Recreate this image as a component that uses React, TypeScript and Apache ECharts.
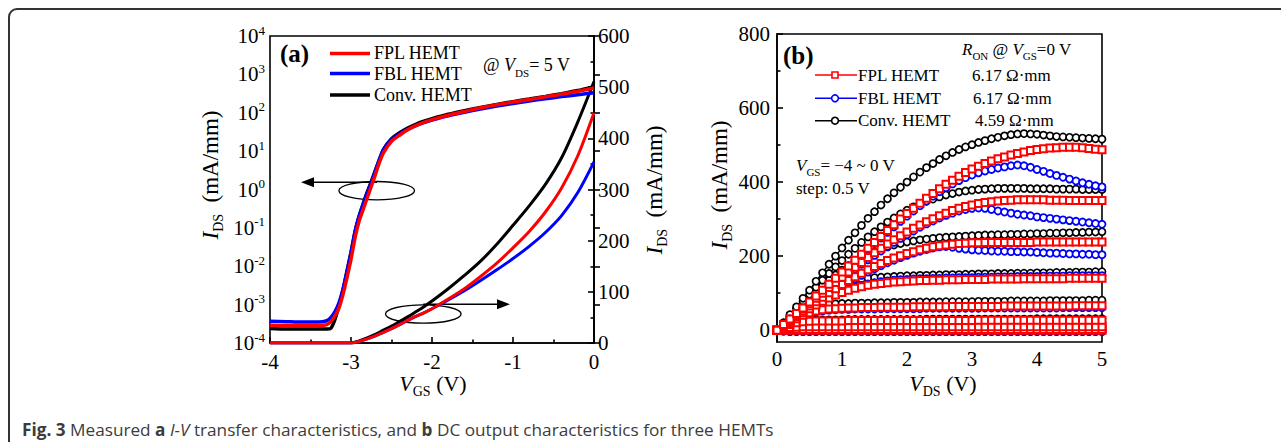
import React, { useEffect, useRef } from 'react';
import * as echarts from 'echarts';

const SERIF = '"Liberation Serif", "Times New Roman", serif';
const SANS = '"Open Sans", "Noto Sans", sans-serif';
const RED = '#ff0000';
const BLUE = '#0000ff';
const BLACK = '#000000';

// ---------- Panel (a): transfer characteristics ----------
const vgsLog = [-4, -3.8, -3.6, -3.4, -3.3, -3.25, -3.2, -3.15, -3.1, -3.05, -3.0, -2.95, -2.9, -2.85, -2.8, -2.75, -2.7, -2.65, -2.6, -2.5, -2.4, -2.3, -2.2, -2.1, -2.0, -1.8, -1.6, -1.4, -1.2, -1.0, -0.8, -0.6, -0.4, -0.2, 0];
const fplLog = [2.9e-4, 2.8e-4, 2.8e-4, 2.8e-4, 3.0e-4, 3.6e-4, 5e-4, 8e-4, 1.8e-3, 5e-3, 1.5e-2, 5.5e-2, 0.15, 0.3, 0.6, 1.2, 2.4, 5, 9, 18, 26, 36, 46, 56, 66, 86, 108, 135, 162, 190, 222, 260, 305, 365, 440];
const fblLog = [3.7e-4, 3.6e-4, 3.5e-4, 3.5e-4, 3.8e-4, 4.6e-4, 6.5e-4, 1.1e-3, 2.5e-3, 7e-3, 2.2e-2, 8e-2, 0.2, 0.42, 0.8, 1.5, 3, 6, 11, 20, 28, 37, 46, 55, 64, 83, 103, 125, 150, 175, 202, 232, 263, 295, 330];
const convLog = [2.4e-4, 2.3e-4, 2.3e-4, 2.3e-4, 2.3e-4, 2.4e-4, 4e-4, 9e-4, 2.3e-3, 7.5e-3, 2.3e-2, 8e-2, 0.2, 0.42, 0.85, 1.6, 3.1, 6, 11, 21, 30, 40, 50, 60, 70, 91, 113, 137, 165, 195, 228, 267, 315, 380, 480];

const vgsLin = [-4, -3.5, -3.2, -3.1, -3.0, -2.9, -2.8, -2.7, -2.6, -2.5, -2.4, -2.3, -2.2, -2.1, -2.0, -1.8, -1.6, -1.4, -1.2, -1.0, -0.8, -0.6, -0.4, -0.2, 0];
const fplLin = [0, 0, 0, 0, 0, 3, 8, 14, 21, 28, 36, 44, 52, 59, 67, 86, 106, 130, 156, 186, 218, 256, 303, 366, 450];
const fblLin = [0, 0, 0, 0, 0, 3, 8, 14, 21, 28, 36, 44, 52, 59, 67, 84, 102, 122, 143, 165, 189, 216, 249, 294, 354];
const convLin = [0, 0, 0, 0, 0, 4, 10, 17, 25, 33, 42, 51, 61, 71, 82, 106, 132, 160, 193, 230, 268, 310, 362, 432, 511];

const xTicksA = [-4, -3, -2, -1, 0];

// ---------- Panel (b): output characteristics ----------
const vds = [0, 0.1, 0.2, 0.3, 0.4, 0.5, 0.6, 0.7, 0.8, 0.9, 1.0, 1.1, 1.2, 1.3, 1.4, 1.5, 1.6, 1.7, 1.8, 1.9, 2.0, 2.1, 2.2, 2.3, 2.4, 2.5, 2.6, 2.7, 2.8, 2.9, 3.0, 3.1, 3.2, 3.3, 3.4, 3.5, 3.6, 3.7, 3.8, 3.9, 4.0, 4.1, 4.2, 4.3, 4.4, 4.5, 4.6, 4.7, 4.8, 4.9, 5.0];

// Conv. HEMT, VGS = 0, -0.5, ... -4 V
const conv0 = [0, 20, 42, 63, 86, 108, 132, 155, 178, 200, 222, 243, 263, 283, 302, 320, 338, 355, 371, 386, 400, 414, 427, 439, 450, 461, 471, 480, 488, 495, 501, 507, 512, 517, 521, 525, 528, 530, 531, 530, 529, 527, 525, 523, 522, 521, 520, 519, 518, 517, 516];
const conv05 = [0, 19, 39, 58, 78, 97, 116, 135, 153, 171, 188, 205, 221, 237, 252, 266, 279, 292, 303, 314, 324, 333, 341, 348, 354, 360, 365, 369, 373, 376, 378, 380, 381, 382, 383, 383, 383, 383, 383, 382, 382, 382, 382, 381, 381, 381, 381, 380, 380, 380, 380];
const conv10 = [0, 18, 36, 54, 71, 88, 104, 120, 135, 149, 162, 174, 185, 195, 204, 212, 219, 225, 230, 234, 238, 241, 244, 246, 248, 250, 251, 252, 253, 254, 255, 256, 257, 257, 258, 258, 259, 259, 260, 260, 261, 261, 262, 262, 263, 263, 264, 264, 265, 265, 266];
const conv15 = [0, 16, 32, 47, 62, 76, 89, 101, 111, 119, 126, 131, 135, 138, 140, 142, 143, 144, 145, 146, 147, 147, 148, 148, 149, 149, 150, 150, 150, 151, 151, 152, 152, 152, 153, 153, 153, 154, 154, 154, 155, 155, 155, 156, 156, 156, 157, 157, 157, 158, 158];
const conv20 = [0, 13, 26, 38, 49, 58, 64, 68, 70, 71, 72, 72, 73, 73, 73, 74, 74, 74, 75, 75, 75, 75, 76, 76, 76, 76, 77, 77, 77, 77, 77, 78, 78, 78, 78, 78, 79, 79, 79, 79, 79, 79, 80, 80, 80, 80, 80, 80, 81, 81, 81];
const conv25 = [0, 9, 17, 23, 26, 27, 28, 28, 28, 28, 28, 29, 29, 29, 29, 29, 29, 29, 29, 29, 29, 29, 29, 30, 30, 30, 30, 30, 30, 30, 30, 30, 30, 30, 30, 30, 30, 30, 30, 30, 31, 31, 31, 31, 31, 31, 31, 31, 31, 31, 31];
const conv30 = [0, 5, 9, 11, 11, 12, 12, 12, 12, 12, 12, 12, 12, 12, 12, 12, 12, 12, 12, 12, 12, 12, 12, 12, 12, 12, 12, 12, 12, 12, 12, 13, 13, 13, 13, 13, 13, 13, 13, 13, 13, 13, 13, 13, 13, 13, 13, 13, 13, 13, 13];
const conv35 = [0, 1, 1, 1, 1, 1, 1, 1, 1, 1, 1, 1, 1, 1, 1, 1, 1, 1, 1, 1, 1, 1, 1, 1, 1, 1, 1, 1, 1, 1, 1, 1, 1, 1, 1, 1, 1, 1, 1, 1, 1, 1, 1, 1, 1, 1, 1, 1, 1, 1, 1];
const conv40 = [0, 0, 0, 0, 0, 0, 0, 0, 0, 0, 0, 0, 0, 0, 0, 0, 0, 0, 0, 0, 0, 0, 0, 0, 0, 0, 0, 0, 0, 0, 0, 0, 0, 0, 0, 0, 0, 0, 0, 0, 0, 0, 0, 0, 0, 0, 0, 0, 0, 0, 0];

// FBL HEMT
const fbl0 = [0, 15, 30, 45, 60, 76, 92, 108, 124, 140, 156, 172, 188, 204, 219, 234, 249, 264, 279, 294, 308, 322, 336, 349, 362, 374, 385, 395, 404, 412, 419, 425, 430, 434, 438, 441, 444, 446, 444, 440, 434, 429, 423, 418, 413, 408, 403, 398, 394, 390, 387];
const fbl05 = [0, 14, 28, 42, 56, 70, 84, 98, 112, 126, 139, 152, 165, 178, 190, 202, 214, 226, 237, 248, 258, 268, 278, 287, 295, 303, 310, 316, 322, 326, 329, 330, 329, 326, 322, 319, 316, 313, 311, 309, 306, 304, 302, 300, 298, 296, 294, 292, 290, 288, 286];
const fbl10 = [0, 13, 26, 38, 50, 62, 74, 86, 97, 108, 119, 129, 139, 148, 157, 166, 174, 182, 189, 196, 202, 208, 213, 218, 222, 225, 226, 224, 221, 219, 217, 216, 215, 214, 213, 213, 212, 212, 211, 211, 210, 209, 208, 208, 207, 206, 206, 205, 205, 204, 204];
const fbl15 = [0, 12, 24, 36, 48, 59, 70, 80, 89, 97, 104, 111, 116, 121, 125, 128, 131, 133, 135, 136, 137, 138, 139, 139, 140, 140, 141, 141, 142, 142, 142, 143, 143, 143, 144, 144, 144, 145, 145, 145, 145, 146, 146, 146, 146, 147, 147, 147, 147, 147, 147];
const fbl20 = [0, 10, 20, 29, 37, 44, 49, 52, 54, 55, 56, 56, 57, 57, 57, 57, 58, 58, 58, 58, 58, 58, 58, 59, 59, 59, 59, 59, 59, 59, 59, 59, 60, 60, 60, 60, 60, 60, 60, 60, 60, 60, 60, 60, 61, 61, 61, 61, 61, 61, 61];
const fbl25 = [0, 7, 13, 17, 19, 20, 20, 21, 21, 21, 21, 21, 21, 21, 21, 21, 21, 21, 21, 21, 21, 21, 21, 21, 21, 22, 22, 22, 22, 22, 22, 22, 22, 22, 22, 22, 22, 22, 22, 22, 22, 22, 22, 22, 22, 22, 22, 22, 22, 22, 22];
const fbl30 = [0, 4, 7, 8, 9, 9, 9, 9, 9, 9, 9, 9, 9, 9, 9, 9, 9, 9, 9, 9, 9, 9, 9, 9, 9, 9, 9, 9, 9, 9, 9, 9, 9, 9, 9, 9, 9, 9, 9, 9, 9, 9, 9, 9, 9, 9, 9, 9, 9, 9, 9];
const fbl35 = [0, -2, -3, -3, -3, -3, -3, -3, -3, -3, -3, -3, -3, -3, -3, -3, -3, -3, -3, -3, -3, -3, -3, -3, -3, -3, -3, -3, -3, -3, -3, -3, -3, -3, -3, -3, -3, -3, -3, -3, -3, -3, -3, -3, -3, -3, -3, -3, -3, -3, -3];
const fbl40 = [0, -3, -4, -4, -4, -4, -4, -4, -4, -4, -4, -4, -4, -4, -4, -4, -4, -4, -4, -4, -4, -4, -4, -4, -4, -4, -4, -4, -4, -4, -4, -4, -4, -4, -4, -4, -4, -4, -4, -4, -4, -4, -4, -4, -4, -4, -4, -4, -4, -4, -4];

// FPL HEMT
const fpl0 = [0, 15, 30, 45, 60, 76, 92, 108, 124, 140, 157, 173, 189, 205, 221, 237, 253, 269, 285, 300, 315, 329, 343, 356, 369, 382, 394, 405, 416, 426, 435, 443, 450, 457, 463, 468, 473, 477, 481, 485, 488, 490, 492, 493, 494, 494, 494, 493, 491, 489, 487];
const fpl05 = [0, 14, 28, 42, 57, 71, 86, 100, 115, 129, 143, 157, 170, 183, 196, 209, 221, 233, 244, 255, 265, 275, 284, 293, 301, 309, 316, 323, 329, 334, 338, 342, 345, 347, 349, 350, 351, 352, 352, 352, 352, 352, 351, 351, 351, 350, 350, 350, 350, 350, 350];
const fpl10 = [0, 13, 26, 39, 52, 65, 77, 89, 101, 112, 123, 134, 144, 154, 163, 172, 180, 188, 195, 201, 207, 212, 217, 221, 225, 228, 230, 232, 234, 235, 236, 236, 237, 237, 237, 237, 237, 237, 237, 237, 238, 238, 238, 238, 238, 238, 238, 238, 238, 238, 238];
const fpl15 = [0, 12, 24, 36, 47, 58, 68, 78, 87, 95, 102, 108, 113, 117, 121, 124, 126, 128, 130, 131, 132, 133, 134, 134, 135, 135, 136, 136, 136, 137, 137, 137, 137, 138, 138, 138, 138, 138, 139, 139, 139, 139, 139, 139, 139, 140, 140, 140, 140, 140, 140];
const fpl20 = [0, 11, 21, 31, 40, 47, 52, 55, 57, 58, 59, 60, 60, 61, 61, 61, 62, 62, 62, 62, 62, 63, 63, 63, 63, 63, 63, 64, 64, 64, 64, 64, 64, 64, 64, 65, 65, 65, 65, 65, 65, 65, 65, 65, 65, 65, 66, 66, 66, 66, 66];
const fpl25 = [0, 8, 15, 20, 23, 24, 25, 25, 25, 25, 25, 26, 26, 26, 26, 26, 26, 26, 26, 26, 26, 26, 26, 26, 26, 26, 26, 26, 26, 26, 26, 27, 27, 27, 27, 27, 27, 27, 27, 27, 27, 27, 27, 27, 27, 27, 27, 27, 27, 27, 27];
const fpl30 = [0, 4, 7, 8, 9, 9, 9, 9, 9, 9, 9, 9, 9, 9, 9, 9, 9, 9, 9, 9, 9, 9, 9, 9, 9, 9, 9, 9, 9, 9, 9, 9, 9, 9, 9, 9, 9, 9, 9, 9, 9, 9, 9, 9, 9, 9, 9, 9, 9, 9, 9];
const fpl35 = [0, 1, 2, 2, 2, 2, 2, 2, 2, 2, 2, 2, 2, 2, 2, 2, 2, 2, 2, 2, 2, 2, 2, 2, 2, 2, 2, 2, 2, 2, 2, 2, 2, 2, 2, 2, 2, 2, 2, 2, 2, 2, 2, 2, 2, 2, 2, 2, 2, 2, 2];
const fpl40 = [0, 0, 0, 0, 0, 0, 0, 0, 0, 0, 0, 0, 0, 0, 0, 0, 0, 0, 0, 0, 0, 0, 0, 0, 0, 0, 0, 0, 0, 0, 0, 0, 0, 0, 0, 0, 0, 0, 0, 0, 0, 0, 0, 0, 0, 0, 0, 0, 0, 0, 0];

const yTicksB = [0, 200, 400, 600, 800];
const yMinorB = [100, 300, 500, 700];

const devices = [
  { name: 'Conv. HEMT', color: BLACK, symbol: 'circle', size: 7, bw: 1.7, curves: [conv40, conv35, conv30, conv25, conv20, conv15, conv10, conv05, conv0] },
  { name: 'FBL HEMT', color: BLUE, symbol: 'circle', size: 7, bw: 1.8, curves: [fbl40, fbl35, fbl30, fbl25, fbl20, fbl15, fbl10, fbl05, fbl0] },
  { name: 'FPL HEMT', color: RED, symbol: 'rect', size: 7, bw: 2, curves: [fpl40, fpl35, fpl30, fpl25, fpl20, fpl15, fpl10, fpl05, fpl0] },
];

function pairs(xs: number[], ys: number[]) {
  return xs.map((x, i) => [x, ys[i]]);
}

function txt(x: number, y: number, text: string, rich: any, extra: any = {}) {
  const { style: extraStyle, ...rest } = extra;
  return {
    type: 'text',
    x,
    y,
    silent: true,
    ...rest,
    style: {
      text,
      rich,
      fontFamily: SERIF,
      fontSize: 18,
      fill: '#000',
      align: 'left',
      verticalAlign: 'middle',
      ...(extraStyle || {}),
    },
  };
}

function richSet(size: number, color: string) {
  return {
    n: { fontFamily: SERIF, fontSize: size, color, lineHeight: size + 8 },
    i: { fontFamily: SERIF, fontSize: size, color, fontStyle: 'italic', lineHeight: size + 8 },
    s: { fontFamily: SERIF, fontSize: Math.round(size * 0.62), color, verticalAlign: 'bottom', lineHeight: Math.round(size * 0.62) },
    b: { fontFamily: SERIF, fontSize: size, color, fontWeight: 'bold', lineHeight: size + 8 },
  };
}

function buildOption() {
  const series: any[] = [];
  // panel a
  const aSets = [
    { c: BLACK, log: convLog, lin: convLin },
    { c: BLUE, log: fblLog, lin: fblLin },
    { c: RED, log: fplLog, lin: fplLin },
  ];
  aSets.forEach((s, k) => {
    series.push({
      type: 'line', xAxisIndex: 0, yAxisIndex: 0, data: pairs(vgsLog, s.log),
      symbol: 'none', smooth: 0.2, silent: true, z: 3 + k,
      lineStyle: { color: s.c, width: 3.5 },
    });
    series.push({
      type: 'line', xAxisIndex: 0, yAxisIndex: 1, data: pairs(vgsLin, s.lin),
      symbol: 'none', smooth: 0.3, silent: true, z: 3 + k,
      lineStyle: { color: s.c, width: 3 },
    });
  });
  // panel b
  devices.forEach((d, k) => {
    d.curves.forEach((cv) => {
      series.push({
        type: 'line', xAxisIndex: 1, yAxisIndex: 2, data: pairs(vds, cv),
        symbol: d.symbol, symbolSize: d.size, showSymbol: true, showAllSymbol: true,
        silent: true, z: 3 + k,
        itemStyle: { color: '#ffffff', borderColor: d.color, borderWidth: d.bw },
        lineStyle: { color: d.color, width: 1.4 },
      });
    });
  });

  const axisLabelBase = { fontFamily: SERIF, fontSize: 21, color: '#000' };
  const lineStyle = { color: '#000', width: 1.6 };

  const rA = richSet(18, '#000');
  const rB = richSet(17, '#000');
  const rT = richSet(22, '#000');
  const rY = richSet(23, '#000');

  const graphic: any[] = [
    // frame
    {
      type: 'rect', silent: true,
      shape: { x: 9, y: 9, width: 1320, height: 480, r: [8, 0, 0, 0] },
      style: { fill: 'none', stroke: '#333', lineWidth: 2 },
    },
    // caption
    {
      type: 'text', x: 22, y: 429, silent: true,
      style: {
        text: '{bb|Fig. 3} Measured {bb|a} {it|I-V} transfer characteristics, and {bb|b} DC output characteristics for three HEMTs',
        fontFamily: SANS, fontSize: 17.2, fill: '#3c3c3c', align: 'left', verticalAlign: 'middle',
        rich: {
          bb: { fontFamily: SANS, fontSize: 17.2, fontWeight: 'bold', color: '#3c3c3c' },
          it: { fontFamily: SANS, fontSize: 17.2, fontStyle: 'italic', color: '#3c3c3c' },
        },
      },
    },
    // panel a labels
    txt(280, 53, '{b|(a)}', { b: { fontFamily: SERIF, fontSize: 25, fontWeight: 'bold', color: '#000' } }),
    { type: 'line', silent: true, shape: { x1: 330, y1: 53.5, x2: 370, y2: 53.5 }, style: { stroke: RED, lineWidth: 3.5 } },
    { type: 'line', silent: true, shape: { x1: 330, y1: 73.5, x2: 370, y2: 73.5 }, style: { stroke: BLUE, lineWidth: 3.5 } },
    { type: 'line', silent: true, shape: { x1: 330, y1: 95, x2: 370, y2: 95 }, style: { stroke: BLACK, lineWidth: 3.5 } },
    txt(374, 53, '{n|FPL HEMT}', richSet(18, RED)),
    txt(374, 73.5, '{n|FBL HEMT}', richSet(18, BLUE)),
    txt(374, 95, '{n|Conv. HEMT}', richSet(18, BLACK)),
    txt(483, 65, '{n|@ }{i|V}{s|DS}{n|= 5 V}', rA),
    txt(210, 175, '{i|I}{s|DS}{n|  (mA/mm)}', rY, { rotation: Math.PI / 2, style: { align: 'center' } }),
    txt(654, 190, '{i|I}{s|DS}{n|  (mA/mm)}', rY, { rotation: Math.PI / 2, style: { align: 'center' } }),
    txt(433, 383, '{i|V}{s|GS}{n| (V)}', rT, { style: { align: 'center' } }),
    // ellipses + arrows
    { type: 'ellipse', silent: true, shape: { cx: 376.7, cy: 190.7, rx: 37.8, ry: 9.2 }, style: { fill: 'none', stroke: '#000', lineWidth: 1.3 } },
    { type: 'line', silent: true, shape: { x1: 377, y1: 182.3, x2: 312, y2: 182.3 }, style: { stroke: '#000', lineWidth: 1.5 } },
    { type: 'polygon', silent: true, shape: { points: [[301, 182.3], [314, 177.3], [314, 187.3]] }, style: { fill: '#000' } },
    { type: 'ellipse', silent: true, shape: { cx: 423.3, cy: 314, rx: 37.8, ry: 9.2 }, style: { fill: 'none', stroke: '#000', lineWidth: 1.3 } },
    { type: 'line', silent: true, shape: { x1: 423.3, y1: 304.3, x2: 499, y2: 304.3 }, style: { stroke: '#000', lineWidth: 1.5 } },
    { type: 'polygon', silent: true, shape: { points: [[510, 304.3], [497, 299.3], [497, 309.3]] }, style: { fill: '#000' } },
    // panel b labels
    txt(783, 55, '{b|(b)}', { b: { fontFamily: SERIF, fontSize: 25, fontWeight: 'bold', color: '#000' } }),
    txt(962, 49, '{i|R}{s|ON}{n| @ }{i|V}{s|GS}{n|=0 V}', rB),
    { type: 'line', silent: true, shape: { x1: 815, y1: 75, x2: 857, y2: 75 }, style: { stroke: RED, lineWidth: 1.6 } },
    { type: 'rect', silent: true, shape: { x: 832, y: 72, width: 6, height: 6 }, style: { fill: '#fff', stroke: RED, lineWidth: 1.6 } },
    { type: 'line', silent: true, shape: { x1: 815, y1: 98.3, x2: 857, y2: 98.3 }, style: { stroke: BLUE, lineWidth: 1.6 } },
    { type: 'circle', silent: true, shape: { cx: 835, cy: 98.3, r: 3.4 }, style: { fill: '#fff', stroke: BLUE, lineWidth: 1.6 } },
    { type: 'line', silent: true, shape: { x1: 815, y1: 120.7, x2: 857, y2: 120.7 }, style: { stroke: BLACK, lineWidth: 1.6 } },
    { type: 'circle', silent: true, shape: { cx: 835, cy: 120.7, r: 3.4 }, style: { fill: '#fff', stroke: BLACK, lineWidth: 1.6 } },
    txt(858, 75, '{n|FPL HEMT}', richSet(17, RED)),
    txt(858, 98.3, '{n|FBL HEMT}', richSet(17, BLUE)),
    txt(858, 120.7, '{n|Conv. HEMT}', richSet(17, BLACK)),
    txt(972, 75, '{n|6.17 Ω·mm}', richSet(17, RED)),
    txt(973, 98.3, '{n|6.17 Ω·mm}', richSet(17, BLUE)),
    txt(975, 120.7, '{n|4.59 Ω·mm}', richSet(17, BLACK)),
    txt(796, 165, '{i|V}{s|GS}{n|= −4 ~ 0 V}', rB),
    txt(796, 188, '{n|step: 0.5 V}', rB),
    txt(719, 185, '{i|I}{s|DS}{n|  (mA/mm)}', rY, { rotation: Math.PI / 2, style: { align: 'center' } }),
    txt(943, 383, '{i|V}{s|DS}{n| (V)}', rT, { style: { align: 'center' } }),
  ];

  return {
    animation: false,
    backgroundColor: '#ffffff',
    grid: [
      { left: 270, top: 36, width: 324, height: 307, show: true, borderColor: '#000', borderWidth: 1.6, backgroundColor: 'transparent' },
      { left: 777, top: 34, width: 325, height: 308, show: true, borderColor: '#000', borderWidth: 1.6, backgroundColor: 'transparent' },
    ],
    xAxis: [
      {
        gridIndex: 0, type: 'value', min: -4, max: 0, interval: 1,
        axisLine: { lineStyle }, splitLine: { show: false },
        axisTick: { inside: true, length: 6, lineStyle },
        minorTick: { show: true, splitNumber: 2, length: 3.5, lineStyle },
        axisLabel: { ...axisLabelBase, margin: 8, formatter: (v: number) => (xTicksA.includes(v) ? String(v) : '') },
      },
      {
        gridIndex: 1, type: 'value', min: 0, max: 5, interval: 1,
        axisLine: { lineStyle }, splitLine: { show: false },
        axisTick: { inside: true, length: 6, lineStyle },
        minorTick: { show: true, splitNumber: 2, length: 3.5, lineStyle },
        axisLabel: { ...axisLabelBase, margin: 6 },
      },
    ],
    yAxis: [
      {
        gridIndex: 0, type: 'log', logBase: 10, min: 1e-4, max: 1e4, splitNumber: 8, position: 'left',
        axisLine: { lineStyle }, splitLine: { show: false },
        axisTick: { inside: true, length: 6, lineStyle },
        minorTick: { show: false },
        axisLabel: {
          ...axisLabelBase, margin: 5,
          formatter: (v: number) => `{b|10}{s|${Math.round(Math.log10(v))}}`,
          rich: {
            b: { fontFamily: SERIF, fontSize: 21, color: '#000', lineHeight: 25 },
            s: { fontFamily: SERIF, fontSize: 13, color: '#000', verticalAlign: 'top', lineHeight: 13 },
          },
        },
      },
      {
        gridIndex: 0, type: 'value', min: 0, max: 600, interval: 100, position: 'right',
        axisLine: { lineStyle }, splitLine: { show: false },
        axisTick: { inside: true, length: 6, lineStyle },
        minorTick: { show: true, splitNumber: 2, length: 3.5, lineStyle },
        axisLabel: { ...axisLabelBase, margin: 4 },
      },
      {
        gridIndex: 1, type: 'value', min: -32, max: 800, position: 'left',
        axisLine: { lineStyle }, splitLine: { show: false },
        axisTick: { inside: true, length: 6, lineStyle, customValues: yTicksB },
        axisLabel: { ...axisLabelBase, margin: 7, customValues: yTicksB },
      },
      {
        gridIndex: 1, type: 'value', min: -32, max: 800, position: 'left',
        axisLine: { show: false }, splitLine: { show: false },
        axisTick: { inside: true, length: 3.5, lineStyle, customValues: yMinorB },
        axisLabel: { show: false, customValues: yMinorB },
      },
    ],
    series,
    graphic,
  };
}

export default function App() {
  const ref = useRef<HTMLDivElement>(null);
  useEffect(() => {
    document.body.style.margin = '0';
    const chart = echarts.init(ref.current!, null, { renderer: 'svg' });
    chart.setOption(buildOption() as any);
    return () => chart.dispose();
  }, []);
  return <div ref={ref} style={{ width: 1281, height: 442 }} />;
}
